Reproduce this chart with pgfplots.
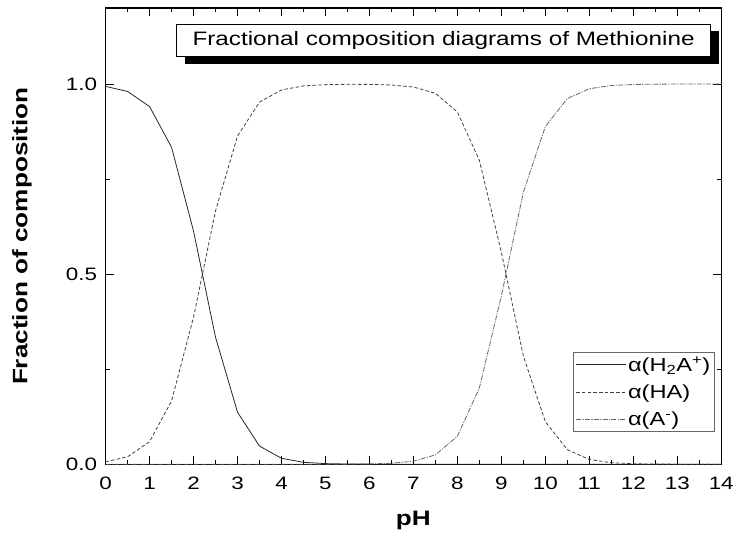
\documentclass[border=0pt]{standalone}
\usepackage{fontspec}
\setmainfont{Liberation Sans}[FakeStretch=1.25]
\usepackage{pgfplots}
\pgfplotsset{compat=1.18}
\usetikzlibrary{shadows}

\pgfplotstableread{
pH   h2a     ha      am
0.0  0.9937  0.0063  0.0000
0.5  0.9804  0.0196  0.0000
1.0  0.9407  0.0593  0.0000
1.5  0.8337  0.1663  0.0000
2.0  0.6131  0.3869  0.0000
2.5  0.3339  0.6661  0.0000
3.0  0.1368  0.8632  0.0000
3.5  0.0477  0.9523  0.0000
4.0  0.0156  0.9844  0.0000
4.5  0.0050  0.9950  0.0000
5.0  0.0016  0.9983  0.0001
5.5  0.0005  0.9992  0.0003
6.0  0.0002  0.9990  0.0008
6.5  0.0000  0.9974  0.0025
7.0  0.0000  0.9921  0.0079
7.5  0.0000  0.9755  0.0245
8.0  0.0000  0.9264  0.0736
8.5  0.0000  0.7992  0.2008
9.0  0.0000  0.5573  0.4427
9.5  0.0000  0.2847  0.7153
10.0 0.0000  0.1118  0.8882
10.5 0.0000  0.0383  0.9617
11.0 0.0000  0.0124  0.9876
11.5 0.0000  0.0040  0.9960
12.0 0.0000  0.0013  0.9987
12.5 0.0000  0.0004  0.9996
13.0 0.0000  0.0001  0.9999
13.5 0.0000  0.0000  1.0000
14.0 0.0000  0.0000  1.0000
}\comp

\begin{document}
\begin{tikzpicture}
\begin{axis}[
  scale only axis,
  width=618bp, height=458bp,
  xmin=0, xmax=14, ymin=0, ymax=1.2,
  xtick={0,1,...,14},
  ytick={0,0.5,1.0},
  minor x tick num=1,
  minor y tick num=1,
  tick align=inside,
  major tick length=8bp,
  minor tick length=4bp,
  axis line style={line width=1.2bp},
  every tick/.style={black, line width=1bp},
  /pgf/number format/assume math mode=true,
  tick label style={font=\fontsize{18bp}{21bp}\selectfont},
  yticklabel style={xshift=-5bp, /pgf/number format/fixed, /pgf/number format/fixed zerofill, /pgf/number format/precision=1},
  xticklabel style={yshift=-9bp},
  xlabel={\textbf{pH}},
  ylabel={\textbf{Fraction of composition}},
  every axis x label/.style={at={(axis description cs:0.5,-0.124)}, anchor=center, font=\fontsize{21bp}{25bp}\selectfont},
  every axis y label/.style={at={(axis description cs:-0.136,0.5)}, rotate=90, anchor=center, font=\fontsize{21bp}{25bp}\selectfont},
  legend style={at={(axis description cs:0.99,0.07)}, anchor=south east,
    draw=black!60, line width=0.8bp, font=\fontsize{19bp}{22bp}\selectfont,
    row sep=9bp, inner sep=3bp, nodes={inner sep=1.5bp}},
  legend cell align=left,
  legend image code/.code={\draw[#1] (0bp,0bp) -- (46bp,0bp); \path (0bp,0bp) -- (50bp,0bp);},
]
\addplot[black!85, line width=0.8bp] table[x=pH, y=h2a] {\comp};
\addplot[black!75, line width=0.8bp, dash pattern=on 3.5bp off 2.2bp] table[x=pH, y=ha] {\comp};
\addplot[black!60, line width=0.8bp, dash pattern=on 5bp off 1.3bp on 1.2bp off 1.3bp] table[x=pH, y=am] {\comp};
\legend{α(H\textsubscript{2}A\textsuperscript{+}), α(HA), α(A\textsuperscript{-})}
\node[draw=black, line width=0.8bp, fill=white, minimum width=536bp, minimum height=33bp,
  font=\fontsize{19.5bp}{23bp}\selectfont,
  drop shadow={shadow xshift=8bp, shadow yshift=-7bp, opacity=1, fill=black}]
  at (axis description cs:0.549,0.929) {Fractional composition diagrams of Methionine};
\coordinate (sw) at (rel axis cs:0,0);
\coordinate (ne) at (rel axis cs:1,1);
\end{axis}
\path ([shift={(-106bp,-72bp)}]sw) rectangle ([shift={(13bp,8bp)}]ne);
\end{tikzpicture}
\end{document}
